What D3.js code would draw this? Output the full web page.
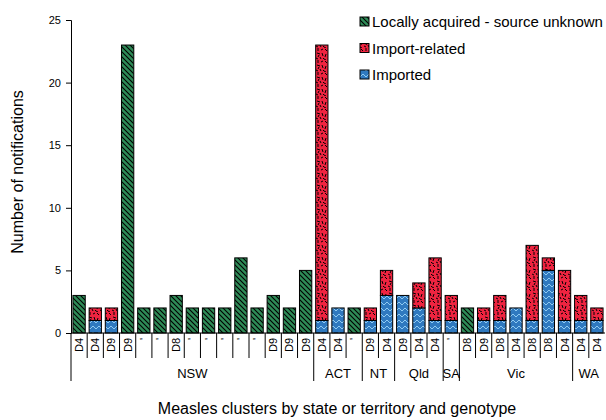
<!DOCTYPE html>
<html><head><meta charset="utf-8">
<script src="https://cdn.jsdelivr.net/npm/d3@7/dist/d3.min.js"></script>
<style>body{margin:0;background:#fff}svg{display:block}text{font-family:Arial,"Liberation Sans",sans-serif}</style>
</head><body><svg id="c" width="606" height="420"></svg>
<script>
const genotypes = ["D4","D4","D9","D9","'","'","D8","'","'","'","'","'","D9","D9","D9",
  "D4","D4","'", "D9","D4", "D9","D4","D4", "'", "D8","D9","D8","D4","D8","D8","D4", "D4","D4"];
const states = ["NSW","NSW","NSW","NSW","NSW","NSW","NSW","NSW","NSW","NSW","NSW","NSW","NSW","NSW","NSW",
  "ACT","ACT","ACT","NT","NT","Qld","Qld","Qld","SA","Vic","Vic","Vic","Vic","Vic","Vic","Vic","WA","WA"];
const imported      = [0,1,1,0,0,0,0,0,0,0,0,0,0,0,0, 1,2,0, 1,3, 3,2,1, 1, 0,1,1,2,1,5,1, 1,1];
const importRelated = [0,1,1,0,0,0,0,0,0,0,0,0,0,0,0, 22,0,0, 1,2, 0,2,5, 2, 0,1,2,0,6,1,4, 2,1];
const localUnknown  = [3,0,0,23,2,2,3,2,2,2,6,2,3,2,5, 0,0,2, 0,0, 0,0,0, 0, 2,0,0,0,0,0,0, 0,0];
const seriesNames = ["Locally acquired - source unknown","Import-related","Imported"];
const yTicks = [0,5,10,15,20,25];

const svg = d3.select("#c");
const defs = svg.append("defs");
const pg = defs.append("pattern").attr("id","pGreen").attr("patternUnits","userSpaceOnUse").attr("width",5).attr("height",5);
pg.append("rect").attr("width",5).attr("height",5).attr("fill","#2E8B57");
pg.append("path").attr("d","M0,0L5,5M-1,4L1,6M4,-1L6,1").attr("stroke","#000").attr("stroke-width",1.1);
const pb = defs.append("pattern").attr("id","pBlue").attr("patternUnits","userSpaceOnUse").attr("width",6).attr("height",6);
pb.append("rect").attr("width",6).attr("height",6).attr("fill","#2F79BF");
pb.append("path").attr("d","M0,5L3,2L6,5").attr("fill","none").attr("stroke","#8FCBF2").attr("stroke-width",1);
const pr = defs.append("pattern").attr("id","pRed").attr("patternUnits","userSpaceOnUse").attr("width",12).attr("height",12);
pr.append("rect").attr("width",12).attr("height",12).attr("fill","#EF2440");
pr.append("path").attr("d","M1,1L3,3M6,0L6,3M9,2L11,1M2,6L1,9M5,5L8,6M10,5L11,8M4,10L6,11M8,9L9,11M0,11L2,12M11,11L12,10M7,7L6,9")
  .attr("stroke","#000").attr("stroke-width",1).attr("fill","none");

const x0 = 71, x1 = 605, yTop = 20, yBot = 333;
const idx = d3.range(genotypes.length);
const x = d3.scaleBand().domain(idx).range([x0, x1]).paddingInner(0.24).paddingOuter(0.12);
const y = d3.scaleLinear().domain([0,25]).range([yBot, yTop]);

const data = idx.map(i => ({i, Imported: imported[i], "Import-related": importRelated[i], "Locally acquired - source unknown": localUnknown[i]}));
const stack = d3.stack().keys(["Imported","Import-related","Locally acquired - source unknown"]);
const fills = {"Imported":"url(#pBlue)","Import-related":"url(#pRed)","Locally acquired - source unknown":"url(#pGreen)"};
stack(data).forEach(layer => {
  svg.append("g").selectAll("rect").data(layer.filter(d => d[1] > d[0])).join("rect")
    .attr("x", d => x(d.data.i)).attr("width", x.bandwidth())
    .attr("y", d => y(d[1])).attr("height", d => y(d[0]) - y(d[1]))
    .attr("fill", fills[layer.key]).attr("stroke","#000").attr("stroke-width",1);
});

const yAxis = svg.append("g").attr("transform",`translate(${x0},0)`)
  .call(d3.axisLeft(y).tickValues(yTicks).tickSize(5).tickPadding(5));
yAxis.select(".domain").attr("stroke","#000");
yAxis.selectAll("text").attr("font-size",11).attr("fill","#000").attr("font-family","Arial, Liberation Sans");
svg.append("line").attr("x1",x0).attr("x2",x1).attr("y1",yBot).attr("y2",yBot).attr("stroke","#000");
idx.forEach(i => {
  const bx = x0 + (x1-x0) * i / genotypes.length;
  const groupStart = i === 0 || states[i] !== states[i-1];
  svg.append("line").attr("x1",bx).attr("x2",bx).attr("y1",yBot).attr("y2", groupStart ? 381 : 358)
    .attr("stroke","#000").attr("stroke-width",1);
});
svg.append("g").selectAll("text").data(idx).join("text")
  .attr("transform", i => `translate(${x(i)+x.bandwidth()/2+4},338) rotate(-90)`)
  .attr("text-anchor","end").attr("font-size",11).text(i => genotypes[i]);
d3.groups(idx, i => states[i]).forEach(([s, arr]) => {
  const a = x0 + (x1-x0)*arr[0]/genotypes.length, b = x0 + (x1-x0)*(arr[arr.length-1]+1)/genotypes.length;
  svg.append("text").attr("x",(a+b)/2).attr("y",378).attr("text-anchor","middle").attr("font-size",13).text(s);
});
svg.append("text").attr("x",337).attr("y",414).attr("text-anchor","middle").attr("font-size",16)
  .text("Measles clusters by state or territory and genotype");
svg.append("text").attr("transform","translate(23,172) rotate(-90)").attr("text-anchor","middle").attr("font-size",16)
  .text("Number of notifications");
const lg = svg.append("g");
const lf = ["url(#pGreen)","url(#pRed)","url(#pBlue)"];
seriesNames.forEach((n,k) => {
  const ly = 22 + k*26.5;
  lg.append("rect").attr("x",360).attr("y",ly-5).attr("width",9).attr("height",9).attr("fill",lf[k]).attr("stroke","#000");
  lg.append("text").attr("x",372).attr("y",ly+5).attr("font-size",15).text(n);
});
</script></body></html>
